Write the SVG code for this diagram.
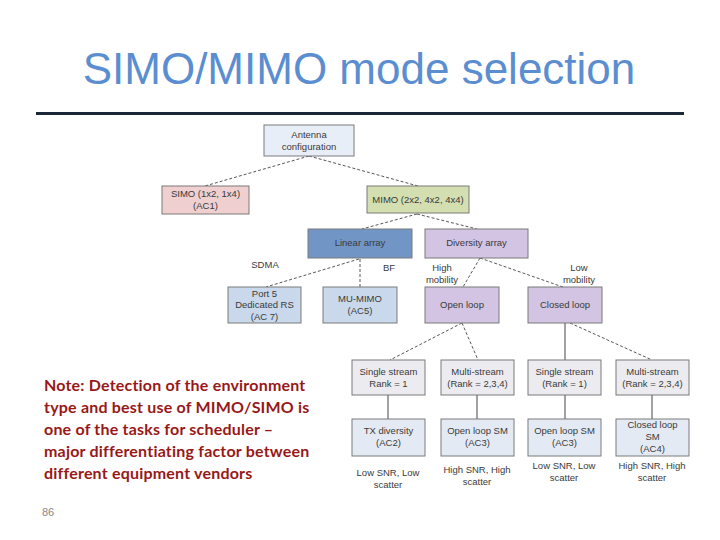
<svg xmlns="http://www.w3.org/2000/svg" width="720" height="540" viewBox="0 0 720 540">
<style>
.n{stroke:#7a7a7a;stroke-width:1}
.t{font-family:"Liberation Sans",Arial,sans-serif;font-size:9.5px;fill:#3a3a3a;text-anchor:middle}
.l{font-family:"Liberation Sans",Arial,sans-serif;font-size:9.5px;fill:#3a3a3a;text-anchor:middle}
.d{stroke:#444;stroke-width:0.9;stroke-dasharray:3,2;fill:none}
.s{stroke:#444;stroke-width:1;fill:none}
.note{font-family:Lato,"Open Sans",sans-serif;font-size:16px;font-weight:bold;letter-spacing:0.2px;fill:#981818}
</style>
<rect width="720" height="540" fill="#ffffff"/>
<text x="359" y="84" font-family="'Liberation Sans',Arial,sans-serif" font-size="44" fill="#5b8ed0" text-anchor="middle">SIMO/MIMO mode selection</text>
<rect x="36" y="112" width="648" height="3" fill="#1c2838"/>

<g id="connectors">
<path class="d" d="M309,156 L205,186 M309,156 L418,186"/>
<path class="d" d="M417,214 L362,229 M417,214 L477,229"/>
<path class="d" d="M359,259 L266,287 M360,259 L360,287"/>
<path class="d" d="M480,258 L463,287 M480,258 L563,287"/>
<path class="d" d="M462,323 L390,360 M462,323 L478,360"/>
<path class="s" d="M565,323 L565,360"/>
<path class="d" d="M570,323 L652,360"/>
<path class="s" d="M388,395 L388,419 M477,395 L477,419 M565,395 L565,419 M652,395 L652,419"/>
</g>

<g id="antenna"><rect class="n" x="264" y="125" width="90" height="31" fill="#e8eef8"/><text class="t" x="309" y="138">Antenna</text><text class="t" x="309" y="150">configuration</text></g>
<g id="simo"><rect class="n" x="162" y="186" width="87" height="28" fill="#efcfcf"/><text class="t" x="205.5" y="197">SIMO (1x2, 1x4)</text><text class="t" x="205.5" y="209">(AC1)</text></g>
<g id="mimo"><rect class="n" x="367" y="186" width="102" height="27" fill="#d3dfb0"/><text class="t" x="418" y="203">MIMO (2x2, 4x2, 4x4)</text></g>
<g id="linear"><rect class="n" x="308" y="229" width="104" height="29" fill="#7196c6"/><text class="t" x="360" y="246">Linear array</text></g>
<g id="diversity"><rect class="n" x="425" y="229" width="103" height="29" fill="#d2c4e2"/><text class="t" x="476.5" y="246">Diversity array</text></g>
<g id="port5"><rect class="n" x="228" y="287" width="73" height="36" fill="#c9d8eb"/><text class="t" x="264.5" y="297">Port 5</text><text class="t" x="264.5" y="308">Dedicated RS</text><text class="t" x="264.5" y="320">(AC 7)</text></g>
<g id="mumimo"><rect class="n" x="323" y="287" width="74" height="36" fill="#c9d8eb"/><text class="t" x="360" y="302">MU-MIMO</text><text class="t" x="360" y="314">(AC5)</text></g>
<g id="openloop"><rect class="n" x="425" y="287" width="74" height="36" fill="#d2c4e2"/><text class="t" x="462" y="308">Open loop</text></g>
<g id="closedloop"><rect class="n" x="528" y="287" width="74" height="36" fill="#d2c4e2"/><text class="t" x="565" y="308">Closed loop</text></g>

<g id="ss1"><rect class="n" x="352" y="360" width="73" height="35" fill="#ececf0"/><text class="t" x="388.5" y="375">Single stream</text><text class="t" x="388.5" y="387">Rank = 1</text></g>
<g id="ms1"><rect class="n" x="441" y="360" width="73" height="35" fill="#ececf0"/><text class="t" x="477.5" y="375">Multi-stream</text><text class="t" x="477.5" y="387">(Rank = 2,3,4)</text></g>
<g id="ss2"><rect class="n" x="528" y="360" width="73" height="35" fill="#ececf0"/><text class="t" x="564.5" y="375">Single stream</text><text class="t" x="564.5" y="387">(Rank = 1)</text></g>
<g id="ms2"><rect class="n" x="616" y="360" width="73" height="35" fill="#ececf0"/><text class="t" x="652.5" y="375">Multi-stream</text><text class="t" x="652.5" y="387">(Rank = 2,3,4)</text></g>

<g id="txd"><rect class="n" x="352" y="419" width="73" height="37" fill="#e4eaf4"/><text class="t" x="388.5" y="434">TX diversity</text><text class="t" x="388.5" y="446">(AC2)</text></g>
<g id="olsm1"><rect class="n" x="441" y="419" width="73" height="37" fill="#e4eaf4"/><text class="t" x="477.5" y="434">Open loop SM</text><text class="t" x="477.5" y="446">(AC3)</text></g>
<g id="olsm2"><rect class="n" x="528" y="419" width="73" height="37" fill="#e4eaf4"/><text class="t" x="564.5" y="434">Open loop SM</text><text class="t" x="564.5" y="446">(AC3)</text></g>
<g id="clsm"><rect class="n" x="616" y="419" width="73" height="37" fill="#e4eaf4"/><text class="t" x="652.5" y="428">Closed loop</text><text class="t" x="652.5" y="440">SM</text><text class="t" x="652.5" y="452">(AC4)</text></g>

<g id="labels">
<text class="l" x="265" y="268">SDMA</text>
<text class="l" x="389" y="271">BF</text>
<text class="l" x="442" y="271">High</text><text class="l" x="442" y="283">mobility</text>
<text class="l" x="579" y="271">Low</text><text class="l" x="579" y="283">mobility</text>
<text class="l" x="388" y="476">Low SNR, Low</text><text class="l" x="388" y="488">scatter</text>
<text class="l" x="477" y="473">High SNR, High</text><text class="l" x="477" y="485">scatter</text>
<text class="l" x="564" y="469">Low SNR, Low</text><text class="l" x="564" y="481">scatter</text>
<text class="l" x="652" y="469">High SNR, High</text><text class="l" x="652" y="481">scatter</text>
</g>

<g id="note">
<text class="note" x="44" y="391">Note: Detection of the environment</text>
<text class="note" x="44" y="413">type and best use of MIMO/SIMO is</text>
<text class="note" x="44" y="435">one of the tasks for scheduler –</text>
<text class="note" x="44" y="457">major differentiating factor between</text>
<text class="note" x="44" y="479">different equipment vendors</text>
</g>
<text x="42" y="516" font-family="'Liberation Sans',Arial,sans-serif" font-size="11" fill="#888">86</text>
</svg>
